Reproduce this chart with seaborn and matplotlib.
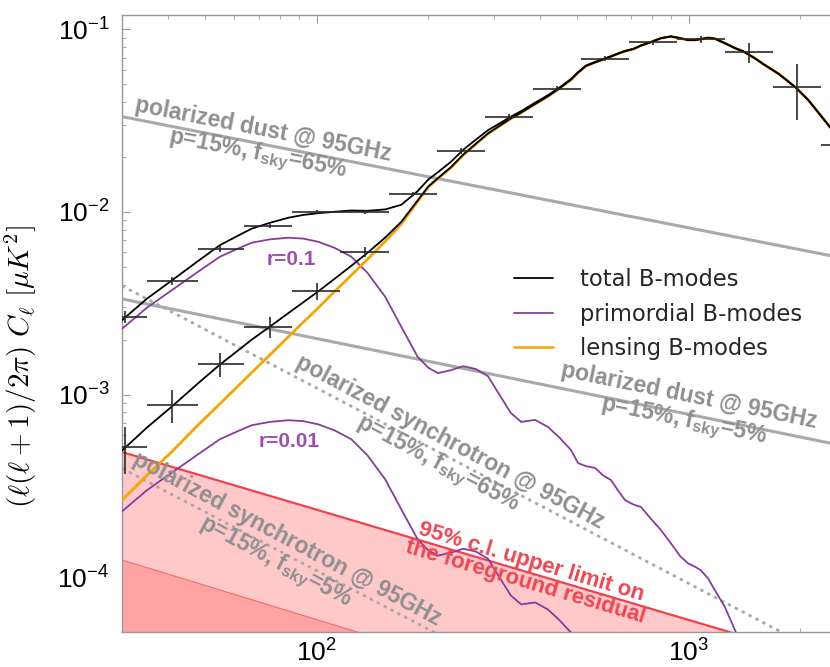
import numpy as np
import matplotlib
matplotlib.use("Agg")
import matplotlib.pyplot as plt
import seaborn as sns
from matplotlib.lines import Line2D
from matplotlib.ticker import LogLocator, NullFormatter

sns.set_theme(style="ticks")
plt.rcParams["font.family"] = ["Liberation Sans", "DejaVu Sans"]
plt.rcParams["mathtext.fontset"] = "custom"
plt.rcParams["mathtext.rm"] = "Liberation Sans"
plt.rcParams["mathtext.bf"] = "Liberation Sans:bold"
plt.rcParams["mathtext.it"] = "Liberation Sans:italic"

# ---- CMB B-mode spectra (D_ell in uK^2) on a common multipole grid ----
ell = [30, 35, 41, 48, 55, 62, 67, 75, 84, 92, 101, 112, 124, 137, 153, 169,
       187, 200, 212, 230, 248, 268, 289, 310, 333, 355, 387, 419, 450, 483,
       505, 530, 561, 590, 619, 645, 675, 710, 745, 790, 843, 897, 950, 996,
       1040, 1079, 1130, 1177, 1253, 1333, 1400, 1500, 1600, 1750, 1944, 2100,
       2375, 2617, 3000]
lensing = [2.64e-4, 3.6e-4, 4.9e-4, 6.8e-4, 8.9e-4, 1.13e-3, 1.32e-3, 1.65e-3,
           2.07e-3, 2.48e-3, 2.98e-3, 3.68e-3, 4.5e-3, 5.5e-3, 6.9e-3, 8.6e-3,
           1.14e-2, 1.37e-2, 1.52e-2, 1.75e-2, 2.05e-2, 2.35e-2, 2.68e-2,
           2.95e-2, 3.25e-2, 3.5e-2, 3.9e-2, 4.3e-2, 4.75e-2, 5.3e-2, 5.8e-2,
           6.3e-2, 6.6e-2, 6.85e-2, 7.1e-2, 7.35e-2, 7.6e-2, 7.8e-2, 8.15e-2,
           8.5e-2, 8.95e-2, 9.15e-2, 8.95e-2, 8.75e-2, 8.75e-2, 8.85e-2, 9.0e-2,
           8.9e-2, 8.4e-2, 7.9e-2, 7.6e-2, 7.0e-2, 6.4e-2, 5.7e-2, 4.8e-2,
           4.1e-2, 3.0e-2, 2.35e-2, 1.7e-2]
primordial_r01 = [2.29e-3, 2.99e-3, 3.75e-3, 4.7e-3, 5.69e-3, 6.35e-3, 6.79e-3,
                  7.08e-3, 7.23e-3, 7.15e-3, 6.87e-3, 6.35e-3, 5.69e-3, 4.65e-3,
                  3.43e-3, 2.35e-3, 1.61e-3, 1.40e-3, 1.31e-3, 1.36e-3, 1.43e-3,
                  1.38e-3, 1.26e-3, 1.0e-3, 7.92e-4, 7.08e-4, 7.26e-4, 6.64e-4,
                  5.8e-4, 4.97e-4, 4.21e-4, 4.05e-4, 3.96e-4, 3.6e-4, 3.4e-4,
                  3.0e-4, 2.64e-4, 2.5e-4, 2.42e-4, 2.1e-4, 1.81e-4, 1.53e-4,
                  1.3e-4, 1.19e-4, 1.14e-4, 1.09e-4, 9.8e-5, 8.48e-5, 6.84e-5,
                  5.12e-5, 4.0e-5, 3.0e-5, 2.3e-5, 1.6e-5, 1.0e-5, 7e-6, 4e-6,
                  2.5e-6, 1.5e-6]
r_ref = 0.1
r_values = [0.1, 0.01]

# ---- binned band powers with errors ----
band_ell = [30.5, 41, 55, 75, 100, 135, 182, 245, 329, 443, 596, 803, 1080,
            1454, 1957, 2635]
band_lo = [26, 35, 48, 64, 86, 116, 157, 211, 284, 382, 514, 692, 931, 1253,
           1687, 2271]
band_hi = [35, 48, 64, 86, 116, 157, 211, 284, 382, 514, 692, 931, 1253, 1687,
           2271, 3057]
band_r01 = [2.67e-3, 4.2e-3, 6.3e-3, 8.42e-3, 1.005e-2, 1.005e-2, 1.26e-2,
            2.17e-2, 3.33e-2, 4.74e-2, 6.93e-2, 8.49e-2, 8.81e-2, 7.48e-2,
            4.81e-2, 2.34e-2]
band_r01_err = [2.1e-4, 2.2e-4, 2.4e-4, 2.2e-4, 2.6e-4, 2.6e-4, 3.2e-4, 8e-4,
                1.2e-3, 1.6e-3, 2.4e-3, 3e-3, 3.5e-3, 9e-3, 1.62e-2, 1.2e-2]
band_r001 = [5.16e-4, 8.77e-4, 1.47e-3, 2.35e-3, 3.7e-3, 6.05e-3]
band_r001_err = [1.48e-4, 1.83e-4, 2.2e-4, 3.2e-4, 3.9e-4, 3.9e-4]

# ---- foreground power laws at 95 GHz (end points) ----
fg_ell = [30, 3000]
dust_fsky65 = [3.33e-2, 5.28e-3]
dust_fsky5 = [3.34e-3, 4.94e-4]
sync_fsky65 = [3.94e-3, 2.85e-5]
sync_fsky5 = [3.94e-4, 2.85e-6]
resid_upper = [4.84e-4, 3.0e-5]
resid_lower = [1.24e-4, 7.0e-6]

GRAY = "#a9a9a9"
GRAY_TXT = "#8f8f8f"
PURPLE = "#8a3a9c"
PURPLE_TXT = "#9c4fb0"
ORANGE = "#f5a500"
RED = "#f0414c"
RED_TXT = "#ee4652"

fig = plt.figure(figsize=(8.3, 6.67), dpi=100)
ax = fig.add_axes([122 / 830, 35 / 667, 744 / 830, 617 / 667])
ax.set_xscale("log")
ax.set_yscale("log")
ax.set_xlim(30, 3000)
ax.set_ylim(5e-5, 0.12)

# residual bands
floor = [1e-7, 1e-7]
ax.fill_between(fg_ell, floor, resid_upper, color="#ffc9c9", lw=0, zorder=1)
ax.fill_between(fg_ell, floor, resid_lower, color="#ffa3a3", lw=0, zorder=1.1)
sns.lineplot(x=fg_ell, y=resid_upper, ax=ax, color=RED, lw=1.6, zorder=2)
sns.lineplot(x=fg_ell, y=resid_lower, ax=ax, color="#f26a6a", lw=0.8, zorder=2)

# foregrounds
for vals in (dust_fsky65, dust_fsky5):
    sns.lineplot(x=fg_ell, y=vals, ax=ax, color=GRAY, lw=2.2, zorder=2)
for vals in (sync_fsky65, sync_fsky5):
    sns.lineplot(x=fg_ell, y=vals, ax=ax, color=GRAY, lw=2.0, zorder=2,
                 linestyle=(0, (1.2, 1.6)))

lens = np.array(lensing)
prim = np.array(primordial_r01)
for r in r_values:
    sns.lineplot(x=ell, y=prim * r / r_ref, ax=ax, color=PURPLE, lw=1.3, zorder=3)
sns.lineplot(x=ell, y=lens, ax=ax, color=ORANGE, lw=2.0, zorder=3.5)
for r in r_values:
    sns.lineplot(x=ell, y=lens + prim * r / r_ref, ax=ax, color="black",
                 lw=1.3, zorder=4)

# band powers
def xerr(centers, lo, hi):
    c = np.array(centers)
    return [c - np.array(lo[:len(c)]), np.array(hi[:len(c)]) - c]

ax.errorbar(band_ell, band_r01, xerr=xerr(band_ell, band_lo, band_hi),
            yerr=band_r01_err, fmt="none", ecolor="#2a2a2a", elinewidth=1.2,
            capsize=0, zorder=5)
n = len(band_r001)
ax.errorbar(band_ell[:n], band_r001, xerr=xerr(band_ell[:n], band_lo, band_hi),
            yerr=band_r001_err, fmt="none", ecolor="#2a2a2a", elinewidth=1.2,
            capsize=0, zorder=5)

# annotations
txt_kw = dict(ha="center", va="center", rotation_mode="anchor",
              fontweight="bold", zorder=6, linespacing=1.0)
ax.text(70.5, 2.37e-2, "polarized dust @ 95GHz\n" + r"p=15%, f$_{\mathbf{sky}}$=65%",
        rotation=-11, color=GRAY_TXT, fontsize=16.5, **txt_kw)
ax.text(984, 8.3e-4, "polarized dust @ 95GHz\n" + r"p=15%, f$_{\mathbf{sky}}$=5%",
        rotation=-11.5, color=GRAY_TXT, fontsize=16.5, **txt_kw)
ax.text(219, 4.7e-4, "polarized synchrotron @ 95GHz\n" + r"p=15%, f$_{\mathbf{sky}}$=65%",
        rotation=-28, color=GRAY_TXT, fontsize=16.5, **txt_kw)
ax.text(80, 1.38e-4, "polarized synchrotron @ 95GHz\n" + r"p=15%, f$_{\mathbf{sky}}$=5%",
        rotation=-28, color=GRAY_TXT, fontsize=16.5, **txt_kw)
ax.text(370, 1.06e-4, "95% c.l. upper limit on\nthe foreground residual",
        rotation=-16.5, color=RED_TXT, fontsize=16, **txt_kw)
ax.text(85.4, 5.47e-3, "r=0.1", color=PURPLE_TXT, fontsize=15,
        ha="center", va="center", fontweight="bold", zorder=6)
ax.text(84.3, 5.5e-4, "r=0.01", color=PURPLE_TXT, fontsize=15,
        ha="center", va="center", fontweight="bold", zorder=6)

handles = [Line2D([], [], color="black", lw=1.3),
           Line2D([], [], color=PURPLE, lw=1.3),
           Line2D([], [], color=ORANGE, lw=1.8)]
leg = ax.legend(handles, ["total B-modes", "primordial B-modes", "lensing B-modes"],
                loc="upper left", bbox_to_anchor=(0.515, 0.604), frameon=False,
                prop={"family": "DejaVu Sans", "size": 16.3}, handlelength=1.7,
                handletextpad=1.2, labelspacing=0.5, borderaxespad=0)

# axes styling
for side in ("left", "bottom", "top", "right"):
    ax.spines[side].set_color("#999999")
    ax.spines[side].set_linewidth(1.0)
ax.xaxis.set_major_locator(LogLocator(base=10, numticks=10))
ax.xaxis.set_minor_locator(LogLocator(base=10, subs=np.arange(2, 10), numticks=20))
ax.xaxis.set_minor_formatter(NullFormatter())
ax.yaxis.set_minor_formatter(NullFormatter())
ax.tick_params(which="both", direction="in", top=True, right=True,
               color="#999999", labelsize=19, labelcolor="black")
ax.tick_params(which="major", length=6, width=0.8, pad=9)
ax.tick_params(axis="x", which="major", pad=5)
ax.tick_params(which="minor", length=3, width=0.6)
ax.set_ylabel(r"$(\ell(\ell+1)/2\pi)\ C_\ell\ [\mu K^2]$", fontsize=21,
              math_fontfamily="cm", color="black")
ax.yaxis.set_label_coords(-0.112, 0.43)

fig.savefig("out.png", dpi=100)
